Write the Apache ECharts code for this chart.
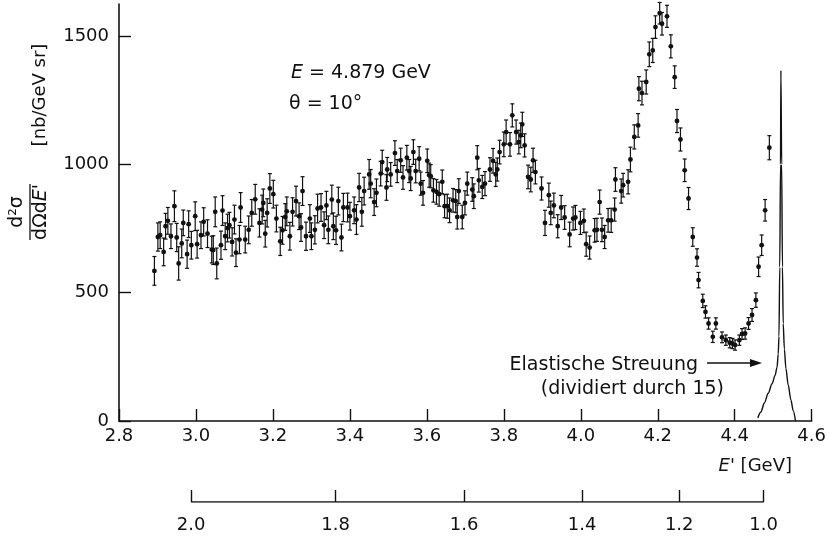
<!DOCTYPE html>
<html><head><meta charset="utf-8">
<script src="https://cdn.jsdelivr.net/npm/echarts@6/dist/echarts.min.js"></script>
<style>html,body{margin:0;padding:0;background:#fff}#c{width:829px;height:539px}</style>
</head><body><div id="c"></div>
<script>
// Measured inelastic spectrum: E' [GeV], d2sigma/dOmega dE' [nb/GeV sr], error
const ePrime = [
2.892,2.901,2.907,2.916,2.921,2.927,2.935,2.944,2.950,2.955,
2.963,2.967,2.977,2.981,2.988,2.998,3.003,3.013,3.020,3.030,
3.041,3.045,3.050,3.054,3.065,3.069,3.076,3.082,3.087,3.094,
3.100,3.104,3.113,3.116,3.128,3.137,3.145,3.154,3.165,3.172,
3.175,3.180,3.185,3.192,3.201,3.209,3.219,3.225,3.232,3.236,
3.244,3.251,3.260,3.268,3.273,3.277,3.286,3.296,3.300,3.309,
3.316,3.325,3.333,3.339,3.344,3.353,3.357,3.364,3.370,3.378,
3.383,3.394,3.400,3.411,3.417,3.424,3.431,3.437,3.450,3.454,
3.463,3.469,
3.480,3.484,3.495,3.497,3.506,3.517,3.523,3.532,3.538,3.548,
3.554,3.558,3.565,3.571,3.580,3.584,3.590,3.601,3.606,3.610,
3.617,3.625,3.632,3.640,3.646,3.653,3.659,3.668,3.675,3.679,
3.683,3.692,3.699,3.705,3.718,3.722,3.731,3.735,3.744,3.751,
3.764,3.772,3.779,3.783,3.789,3.800,3.806,3.816,3.822,3.832,
3.839,3.844,3.848,3.854,3.863,3.870,3.876,3.882,3.898,3.907,
3.917,3.922,3.930,3.940,3.949,3.958,3.971,3.980,3.986,
3.999,4.008,4.014,4.023,4.036,4.042,4.049,4.055,4.062,4.071,
4.079,4.088,4.090,4.105,4.110,4.123,4.129,4.139,4.149,4.151,
4.159,4.170,4.178,4.187,4.194,4.205,4.211,4.224,4.234,4.244,
4.250,4.259,4.270,4.280,4.291,4.302,4.306,4.317,4.324,4.332,
4.343,4.351,4.367,4.377,4.387,4.394,4.401,4.412,4.419,4.427,
4.436,4.445,4.455,4.462,4.470,4.479,4.490
];
const sigma = [
585,717,724,659,759,780,720,837,715,614,
692,772,650,767,685,798,689,724,776,730,
668,666,815,614,685,820,720,752,763,698,
785,656,707,832,707,745,811,864,772,824,
850,730,811,906,884,789,700,743,795,817,
720,815,857,798,754,896,720,789,720,745,
828,832,763,840,745,863,759,743,857,715,
832,832,798,821,785,910,815,896,961,925,
853,889,
964,1009,910,980,961,1044,974,1016,949,1026,
974,945,1048,974,1022,925,889,1014,958,954,
899,893,884,932,837,837,821,860,857,795,
896,795,850,925,902,876,1026,938,912,925,
980,1014,961,980,1048,1078,1126,1078,1191,1126,
1087,1113,1156,1074,951,941,1016,970,906,772,
880,811,840,759,832,793,727,789,793,
772,780,689,676,743,745,853,745,717,782,
782,824,941,896,919,932,1019,1107,1152,1295,
1278,1321,1429,1444,1535,1589,1548,1577,1460,1340,
1169,1097,977,867,717,637,549,468,425,380,
328,380,326,315,305,302,296,315,339,341,
380,413,471,601,685,821,1065
];
const sigmaErr = [
56,55,52,54,50,52,48,60,55,65,
56,50,55,52,54,56,54,52,55,54,
52,56,58,60,55,58,52,54,50,55,
56,54,55,58,52,54,52,58,55,56,
54,52,55,58,54,52,55,54,52,56,
54,55,58,52,54,56,55,54,52,55,
56,54,52,55,54,56,52,55,54,52,
55,56,54,52,58,55,56,54,58,55,
52,54,
48,46,50,47,46,48,45,47,46,48,
45,47,48,46,47,45,48,46,47,45,
46,48,47,46,45,47,48,46,45,47,
48,46,47,45,46,48,47,46,45,47,
46,48,47,45,46,48,47,46,45,47,
46,48,47,45,46,48,47,46,45,49,
47,46,48,45,47,46,48,45,47,
45,46,47,45,46,45,47,46,45,46,
47,45,46,47,46,47,48,47,46,47,
46,47,48,47,44,42,44,43,45,44,
45,45,44,43,36,34,30,26,24,22,
22,22,21,20,20,20,20,20,21,22,
23,25,28,38,40,42,47
];
// Elastic peak (divided by 15)
const elasticE = [4.460,4.468,4.477,4.487,4.497,4.505,4.510,4.513,4.515,4.517,4.519,4.520,4.522,4.524,4.526,4.529,4.533,4.539,4.546,4.552,4.558];
const elasticSigma = [12,35,70,108,145,178,210,260,330,600,1000,1366,1000,600,380,280,205,140,82,40,0];
// Axes
const yTickValues = [0, 500, 1000, 1500];
const eTickLabels = ['2.8','3.0','3.2','3.4','3.6','3.8','4.0','4.2','4.4','4.6'];
const wTickLabels = ['2.0','1.8','1.6','1.4','1.2','1.0'];
const wTickE = [2.987, 3.362, 3.695, 4.001, 4.253, 4.472];

const FONT = 'DejaVu Sans';
const INK = '#111';
const chart = echarts.init(document.getElementById('c'), null, {renderer: 'canvas'});

const pts = ePrime.map((e, i) => [e, sigma[i], sigmaErr[i]]);
const elastic = elasticE.map((e, i) => [e, elasticSigma[i]]);

chart.setOption({
  animation: false,
  backgroundColor: '#fff',
  grid: [
    {left: 119, right: 16, top: 4, bottom: 118},
    {left: 119, right: 16, top: 501, height: 1}
  ],
  xAxis: [{
    type: 'value', gridIndex: 0, min: 2.8, max: 4.6, interval: 0.2,
    axisLine: {show: true, onZero: false, lineStyle: {color: INK, width: 1.6}},
    axisTick: {show: true, inside: true, length: 12, lineStyle: {color: INK, width: 1.4}},
    axisLabel: {color: INK, fontFamily: FONT, fontSize: 18, margin: 6,
      formatter: v => eTickLabels[Math.round((v - 2.8) / 0.2)] ?? ''},
    splitLine: {show: false}
  }, {
    type: 'value', gridIndex: 1, min: 2.8, max: 4.6,
    axisLine: {show: false},
    axisTick: {show: true, inside: true, length: 12, customValues: wTickE, lineStyle: {color: INK, width: 1.4}},
    axisLabel: {show: true, color: INK, fontFamily: FONT, fontSize: 18, margin: 14, customValues: wTickE,
      formatter: v => {
        let best = 0;
        wTickE.forEach((t, i) => { if (Math.abs(t - v) < Math.abs(wTickE[best] - v)) best = i; });
        return wTickLabels[best];
      }},
    splitLine: {show: false}
  }],
  yAxis: [{
    type: 'value', gridIndex: 0, min: 0, max: 1625,
    axisLine: {show: true, lineStyle: {color: INK, width: 1.6}},
    axisTick: {show: true, inside: true, length: 12, customValues: yTickValues, lineStyle: {color: INK, width: 1.4}},
    axisLabel: {color: INK, fontFamily: FONT, fontSize: 18, margin: 10, customValues: yTickValues,
      formatter: v => String(Math.round(v))},
    splitLine: {show: false}
  }, {
    type: 'value', gridIndex: 1, min: 0, max: 1, show: false
  }],
  series: [{
    type: 'custom', xAxisIndex: 0, yAxisIndex: 0, data: pts, encode: {x: 0, y: 1},
    renderItem: (params, api) => {
      const x = api.value(0), y = api.value(1), e = api.value(2);
      const c = api.coord([x, y]);
      const hi = api.coord([x, y + e]);
      const lo = api.coord([x, y - e]);
      const w = 2;
      const st = {stroke: INK, lineWidth: 1.2};
      return {type: 'group', children: [
        {type: 'line', shape: {x1: c[0], y1: hi[1], x2: c[0], y2: lo[1]}, style: st},
        {type: 'line', shape: {x1: c[0] - w, y1: hi[1], x2: c[0] + w, y2: hi[1]}, style: st},
        {type: 'line', shape: {x1: c[0] - w, y1: lo[1], x2: c[0] + w, y2: lo[1]}, style: st},
        {type: 'circle', shape: {cx: c[0], cy: c[1], r: 2.4}, style: {fill: INK}}
      ]};
    },
    silent: true
  }, {
    type: 'line', xAxisIndex: 0, yAxisIndex: 0, data: elastic, symbol: 'none',
    smooth: 0.3, smoothMonotone: 'x',
    lineStyle: {color: INK, width: 1.4}, silent: true, clip: false
  }, {
    type: 'line', xAxisIndex: 1, yAxisIndex: 1,
    data: [[wTickE[0], 0], [wTickE[wTickE.length - 1], 0]],
    symbol: 'none', lineStyle: {color: INK, width: 1.6}, silent: true
  }],
  graphic: [
    {type: 'text', left: 291, top: 64, style: {
      text: '{i|E} = 4.879 GeV', font: '19px ' + FONT, fill: INK,
      rich: {i: {fontStyle: 'italic', fontFamily: FONT, fontSize: 19, fill: INK}}}},
    {type: 'text', left: 289, top: 95, style: {
      text: 'θ = 10°', font: '19px ' + FONT, fill: INK}},
    {type: 'text', right: 37, top: 457, style: {
      text: "{i|E}' [GeV]", font: '18px ' + FONT, fill: INK,
      rich: {i: {fontStyle: 'italic', fontFamily: FONT, fontSize: 18, fill: INK}}}},
    {type: 'text', x: 698, y: 365, style: {
      text: 'Elastische Streuung', font: '19px ' + FONT, fill: INK, align: 'right', verticalAlign: 'middle'}},
    {type: 'text', x: 724, y: 389, style: {
      text: '(dividiert durch 15)', font: '19px ' + FONT, fill: INK, align: 'right', verticalAlign: 'middle'}},
    {type: 'line', shape: {x1: 707, y1: 363, x2: 752, y2: 363}, style: {stroke: INK, lineWidth: 1.4}},
    {type: 'polygon', shape: {points: [[762, 363], [750, 359], [750, 367]]}, style: {fill: INK}},
    {type: 'group', x: 30, y: 212, rotation: Math.PI / 2, children: [
      {type: 'text', x: 0, y: -3, style: {text: 'd²σ', font: '19px ' + FONT, fill: INK, align: 'center', verticalAlign: 'bottom'}},
      {type: 'line', shape: {x1: -28, y1: 0, x2: 28, y2: 0}, style: {stroke: INK, lineWidth: 1.3}},
      {type: 'text', x: 0, y: 2, style: {text: "dΩd{i|E}'", font: '19px ' + FONT, fill: INK, align: 'center', verticalAlign: 'top',
        rich: {i: {fontStyle: 'italic', fontFamily: FONT, fontSize: 19, fill: INK}}}},
      {type: 'text', x: 117, y: 10, style: {text: '[nb/GeV sr]', font: '18px ' + FONT, fill: INK, align: 'center', verticalAlign: 'middle'}}
    ]}
  ]
});
</script>
</body></html>
